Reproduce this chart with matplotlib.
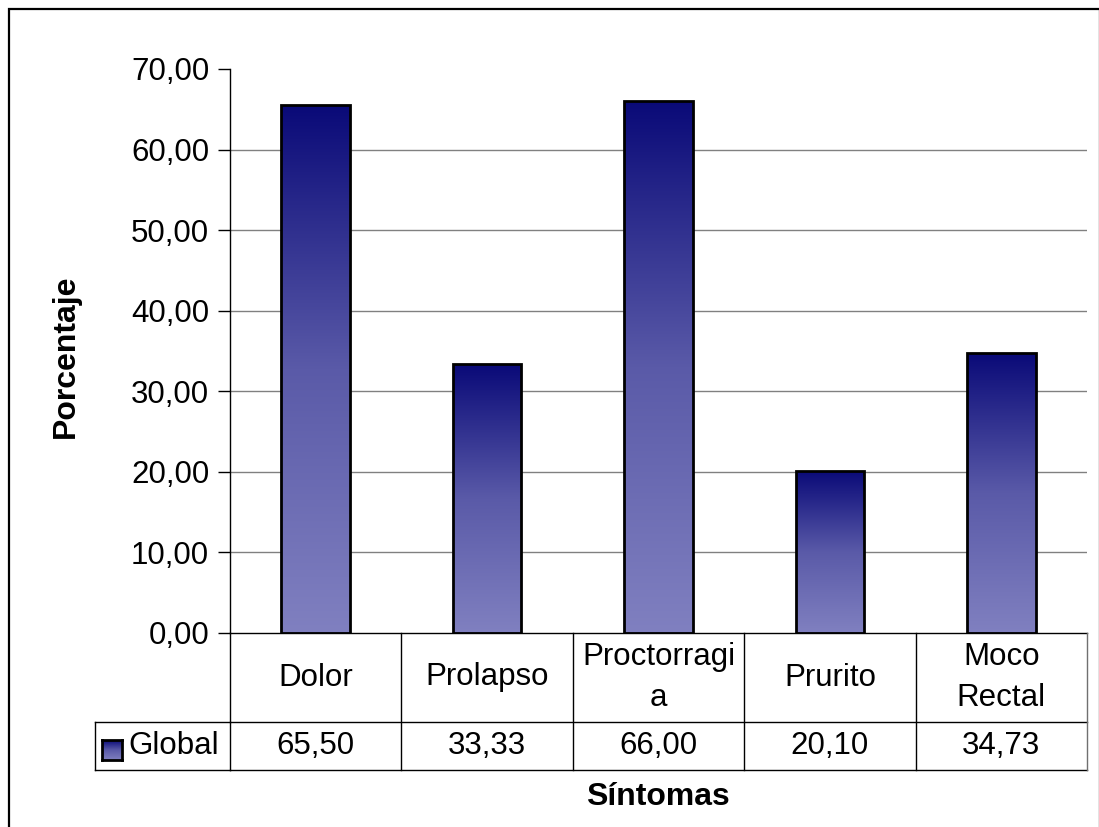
import numpy as np
import matplotlib
matplotlib.use("Agg")
import matplotlib.pyplot as plt
from matplotlib.colors import LinearSegmentedColormap
from matplotlib.lines import Line2D
from matplotlib.patches import Rectangle
from matplotlib.transforms import blended_transform_factory

categories = ["Dolor", "Prolapso", "Proctorragi\na", "Prurito", "Moco\nRectal"]
values = [65.50, 33.33, 66.00, 20.10, 34.73]
value_labels = ["65,50", "33,33", "66,00", "20,10", "34,73"]
series_name = "Global"
y_ticks = [0, 10, 20, 30, 40, 50, 60, 70]
y_tick_labels = ["0,00", "10,00", "20,00", "30,00", "40,00", "50,00", "60,00", "70,00"]

W, H = 1099, 827
FS = 22.5
plt.rcParams["font.family"] = ["Liberation Sans", "DejaVu Sans"]

fig = plt.figure(figsize=(W / 100, H / 100), dpi=100)
fig.patch.set_facecolor("white")


def fy(py):
    return 1 - py / H


def fx(px):
    return px / W


# outer chart frame
fig.add_artist(Rectangle((fx(9), fy(830)), fx(1100) - fx(9), fy(9) - fy(830),
                         transform=fig.transFigure, fill=False,
                         edgecolor="#000000", linewidth=1.6, clip_on=False))

ax = fig.add_axes([fx(230), fy(633), fx(1087) - fx(230), fy(69) - fy(633)])
ax.set_xlim(0, len(categories))
ax.set_ylim(0, 70)
for s in ["top", "right", "bottom"]:
    ax.spines[s].set_visible(False)
ax.spines["left"].set_linewidth(1.0)
ax.set_xticks([])
ax.set_yticks(y_ticks)
ax.set_yticklabels(y_tick_labels, fontsize=FS)
ax.tick_params(axis="y", length=9, width=1.0, pad=6)

for t in y_ticks[1:-1]:
    ax.axhline(t, color="#808080", linewidth=1.0, zorder=1)

cmap = LinearSegmentedColormap.from_list("bar_grad", ["#8080C0", "#5A5AA8", "#0A0A78"])
grad = np.linspace(0, 1, 256).reshape(-1, 1)
bar_w = 0.4
for i, v in enumerate(values):
    x0 = i + 0.5 - bar_w / 2
    ax.imshow(grad, extent=[x0, x0 + bar_w, 0, v], origin="lower", aspect="auto",
              cmap=cmap, zorder=2, interpolation="bilinear")
    ax.add_patch(Rectangle((x0, 0), bar_w, v, fill=False, edgecolor="#000000",
                           linewidth=2.0, zorder=3))
ax.set_xlim(0, len(categories))
ax.set_ylim(0, 70)

# data table below the plot
tr = blended_transform_factory(ax.transData, fig.transFigure)
y_top, y_mid, y_bot = fy(633), fy(722), fy(770)
n = len(categories)
lw = 1.0
fig.add_artist(Line2D([0, n], [y_top, y_top], transform=tr, color="black", lw=lw))
fig.add_artist(Line2D([0, n], [y_mid, y_mid], transform=tr, color="black", lw=lw))
fig.add_artist(Line2D([0, n], [y_bot, y_bot], transform=tr, color="black", lw=lw))
fig.add_artist(Line2D([fx(95), fx(230)], [y_mid, y_mid], transform=fig.transFigure, color="black", lw=lw))
fig.add_artist(Line2D([fx(95), fx(230)], [y_bot, y_bot], transform=fig.transFigure, color="black", lw=lw))
fig.add_artist(Line2D([fx(95), fx(95)], [y_mid, y_bot], transform=fig.transFigure, color="black", lw=lw))
for k in range(n + 1):
    fig.add_artist(Line2D([k, k], [y_top, y_bot], transform=tr,
                          color="#000000" if k < n else "#707070", lw=lw))

for i, (c, lab) in enumerate(zip(categories, value_labels)):
    fig.text(i + 0.5, (y_top + y_mid) / 2, c, transform=tr, ha="center", va="center",
             fontsize=FS, linespacing=1.45)
    fig.text(i + 0.5, (y_mid + y_bot) / 2, lab, transform=tr, ha="center", va="center",
             fontsize=FS)

# legend key inside the table
kax = fig.add_axes([fx(102), fy(760), fx(122) - fx(102), fy(740) - fy(760)])
kax.imshow(grad, extent=[0, 1, 0, 1], origin="lower", aspect="auto", cmap=cmap,
           interpolation="bilinear")
kax.set_xticks([])
kax.set_yticks([])
for s in kax.spines.values():
    s.set_linewidth(2.0)
fig.text(fx(128), (y_mid + y_bot) / 2, series_name, ha="left", va="center", fontsize=FS)

fig.text(fx(66), fy(356), "Porcentaje", rotation=90, ha="center", va="center",
         fontsize=23, fontweight="bold")
fig.text(fx(658), fy(797), "Síntomas", ha="center", va="center",
         fontsize=23, fontweight="bold")

fig.savefig("out.png", dpi=100, facecolor="white")
